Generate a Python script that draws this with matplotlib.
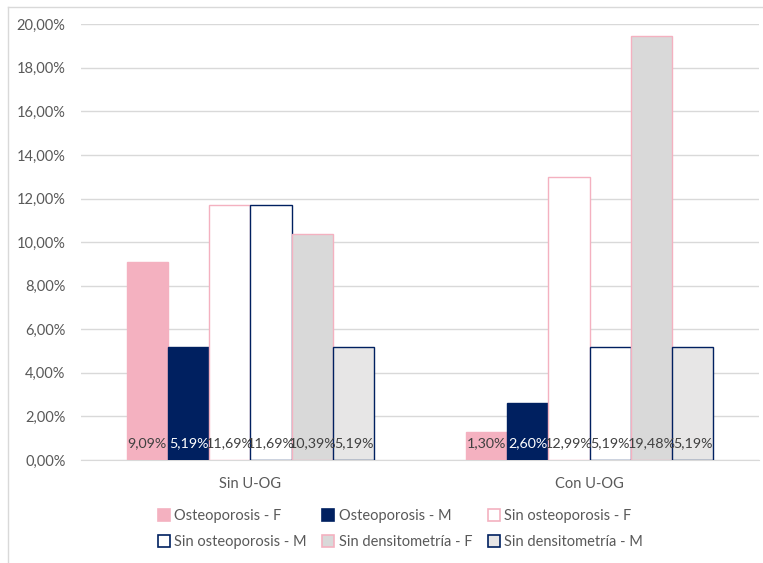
import matplotlib.pyplot as plt
import numpy as np
from matplotlib.lines import Line2D
from matplotlib.ticker import FuncFormatter

grupos = ['Sin U-OG', 'Con U-OG']
series = ['Osteoporosis - F', 'Osteoporosis - M', 'Sin osteoporosis - F',
          'Sin osteoporosis - M', 'Sin densitometría - F', 'Sin densitometría - M']
osteo_f = [9.09, 1.30]
osteo_m = [5.19, 2.60]
sin_osteo_f = [11.69, 12.99]
sin_osteo_m = [11.69, 5.19]
sin_dens_f = [10.39, 19.48]
sin_dens_m = [5.19, 5.19]

valores = [osteo_f, osteo_m, sin_osteo_f, sin_osteo_m, sin_dens_f, sin_dens_m]
rellenos = ['#F4B1C0', '#002060', '#FFFFFF', '#FFFFFF', '#D9D9D9', '#E7E6E6']
bordes = ['#F4B1C0', '#002060', '#F4B1C0', '#002060', '#F4B1C0', '#002060']
col_texto = ['#404040', '#FFFFFF', '#404040', '#404040', '#404040', '#404040']

plt.rcParams['font.family'] = ['Lato', 'DejaVu Sans']

fig = plt.figure(figsize=(7.63, 5.63), dpi=100)
ax = fig.add_axes([0.106, 0.183, 0.889, 0.774])

x = np.arange(len(grupos))
ancho = 0.73 / len(series)
for i, (vals, fc, ec, tc) in enumerate(zip(valores, rellenos, bordes, col_texto)):
    pos = x - 0.365 + ancho * (i + 0.5)
    ax.bar(pos, vals, width=ancho, color=fc, edgecolor=ec, linewidth=1.0, zorder=3)
    for p, v in zip(pos, vals):
        ax.text(p, 0.75, f'{v:.2f}%'.replace('.', ','), ha='center', va='center',
                fontsize=10.3, color=tc, zorder=4)

ax.set_xlim(-0.5, 1.5)
ax.set_ylim(0, 20)
ax.set_yticks(np.arange(0, 21, 2))
ax.yaxis.set_major_formatter(FuncFormatter(lambda v, _: f'{v:.2f}%'.replace('.', ',')))
ax.set_xticks(x)
ax.set_xticklabels(grupos)
ax.grid(axis='y', color='#D9D9D9', linewidth=1, zorder=0)
for s in ['top', 'right', 'left']:
    ax.spines[s].set_visible(False)
ax.spines['bottom'].set_color('#D9D9D9')
ax.tick_params(axis='both', length=0, labelsize=10.5, colors='#595959', pad=11)
ax.tick_params(axis='x', pad=12)

# leyenda en dos filas de tres, rellenada por filas
handles = [Line2D([], [], marker='s', linestyle='none', markersize=8,
                  markerfacecolor=fc, markeredgecolor=ec, markeredgewidth=1.2)
           for fc, ec in zip(rellenos, bordes)]
orden = [0, 3, 1, 4, 2, 5]
fig.legend([handles[k] for k in orden], [series[k] for k in orden],
           loc='center', bbox_to_anchor=(0.524, 0.06), ncol=3,
           frameon=False, fontsize=10.5, labelcolor='#595959', handletextpad=0.2,
           columnspacing=1.0, labelspacing=0.8, handlelength=1.0)

# marco del área del gráfico
fig.add_artist(Line2D([0.0105, 0.0105], [0, 0.988], color='#D9D9D9', linewidth=1,
                      transform=fig.transFigure))
fig.add_artist(Line2D([0.0105, 1.0], [0.988, 0.988], color='#D9D9D9', linewidth=1,
                      transform=fig.transFigure))

fig.savefig('out.png', dpi=100)
